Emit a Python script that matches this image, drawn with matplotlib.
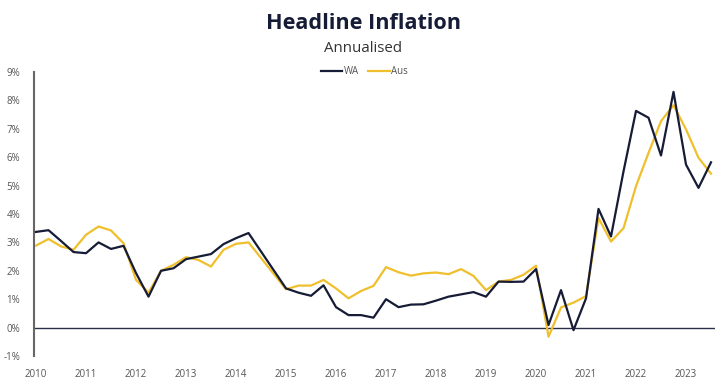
import numpy as np
import matplotlib
matplotlib.use('Agg')
import matplotlib.pyplot as plt
from matplotlib.ticker import FuncFormatter

plt.rcParams.update({'font.family': ['Open Sans', 'DejaVu Sans'],
                     'font.size': 7})

# quarterly, 2010 Q1 .. 2023 Q3
quarters = 2010 + 0.25 * np.arange(55)

wa = [3.37, 3.43, 3.05, 2.66, 2.62, 3.00, 2.77, 2.88,
      1.92, 1.09, 2.00, 2.09, 2.41, 2.50, 2.59, 2.94,
      3.15, 3.33, 2.68, 2.03, 1.38, 1.23, 1.12, 1.49,
      0.72, 0.44, 0.44, 0.35, 1.00, 0.72, 0.81, 0.82,
      0.95, 1.09, 1.17, 1.25, 1.09, 1.62, 1.61, 1.62,
      2.06, 0.09, 1.32, -0.09, 1.03, 4.18, 3.21, 5.50,
      7.63, 7.39, 6.06, 8.30, 5.74, 4.92, 5.82]

aus = [2.89, 3.12, 2.86, 2.74, 3.27, 3.56, 3.42, 2.97,
       1.68, 1.23, 2.00, 2.21, 2.48, 2.38, 2.15, 2.74,
       2.95, 3.00, 2.45, 1.90, 1.35, 1.48, 1.48, 1.68,
       1.38, 1.03, 1.29, 1.47, 2.13, 1.95, 1.83, 1.91,
       1.94, 1.88, 2.06, 1.82, 1.32, 1.62, 1.68, 1.86,
       2.18, -0.32, 0.71, 0.88, 1.11, 3.86, 3.03, 3.50,
       4.98, 6.15, 7.27, 7.83, 6.98, 5.98, 5.42]

years = list(range(2010, 2024))
yticks = list(range(-1, 10))

navy = '#161b36'
gold = '#f0bf2c'

fig = plt.figure(figsize=(7.27, 3.84), dpi=100)
ax = fig.add_axes([0.0468, 0.0729, 0.9367, 0.7396])

ax.axhline(0, color='#2a2f4a', linewidth=1.0, zorder=1)
ax.plot(quarters, wa, color=navy, linewidth=1.6, label='WA', zorder=3)
ax.plot(quarters, aus, color=gold, linewidth=1.6, label='Aus', zorder=2)

ax.set_xlim(2009.96, 2023.58)
ax.set_ylim(-1, 9)
ax.set_xticks(years)
ax.set_yticks(yticks)
ax.yaxis.set_major_formatter(FuncFormatter(lambda v, p: f'{v:.0f}%'))
ax.tick_params(length=0, colors='#555555', labelsize=7)
ax.tick_params(axis='x', pad=9)
ax.tick_params(axis='y', pad=10)

for s in ['top', 'right', 'bottom']:
    ax.spines[s].set_visible(False)
ax.spines['left'].set_color('#666666')
ax.spines['left'].set_linewidth(1.5)

fig.text(0.5, 0.938, 'Headline Inflation', ha='center', va='center',
         fontsize=15.6, fontweight='bold', color='#161b36')
fig.text(0.5, 0.875, 'Annualised', ha='center', va='center',
         fontsize=10.8, color='#333333')

leg = ax.legend(loc='center', bbox_to_anchor=(0.485, 1.0), ncol=2,
                frameon=False, handlelength=2.2, handletextpad=0.1,
                columnspacing=1.0, fontsize=7)
for t in leg.get_texts():
    t.set_color('#555555')

fig.savefig('out.png', dpi=100)
